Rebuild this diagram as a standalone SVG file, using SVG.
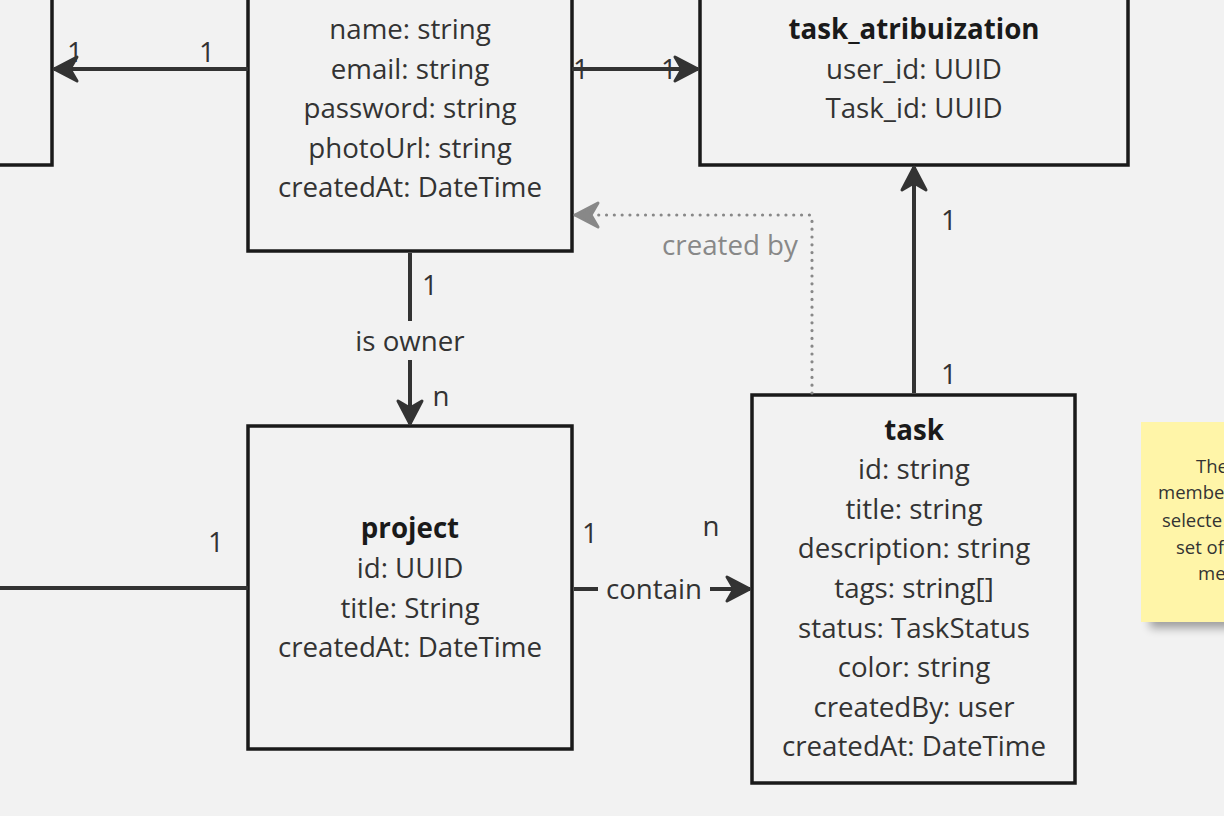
<svg xmlns="http://www.w3.org/2000/svg" width="1224" height="816" viewBox="0 0 1224 816">
<style>
.box{fill:#f2f2f2;stroke:#1a1a1a;stroke-width:3.5}
.t{font-family:"Open Sans","Noto Sans",sans-serif;font-size:27.7px;fill:#333;text-anchor:middle;dominant-baseline:central}
.b{font-weight:bold;fill:#1a1a1a}
.c{stroke:#333;stroke-width:4;fill:none}
.d{stroke:#888;stroke-width:3.2;fill:none;stroke-dasharray:0 7.8;stroke-linecap:round}
.lbl{font-family:"Open Sans","Noto Sans",sans-serif;font-size:27.7px;fill:#333;text-anchor:middle;dominant-baseline:central}
.g{fill:#888}
.n{font-family:"Open Sans","Noto Sans",sans-serif;font-size:18.5px;fill:#333}
</style>
<defs>
<marker id="ah" markerUnits="userSpaceOnUse" markerWidth="40" markerHeight="40" viewBox="-30 -20 40 40" refX="0" refY="0" orient="auto">
<path d="M0,0 L-23,-12 L-16,0 L-23,12 Z" fill="#333" stroke="#333" stroke-width="3" stroke-linejoin="round"/>
</marker>
<marker id="ahg" markerUnits="userSpaceOnUse" markerWidth="40" markerHeight="40" viewBox="-30 -20 40 40" refX="0" refY="0" orient="auto">
<path d="M0,0 L-23,-12 L-16,0 L-23,12 Z" fill="#888" stroke="#888" stroke-width="3" stroke-linejoin="round"/>
</marker>
<filter id="sh" x="-20%" y="-20%" width="140%" height="140%">
<feGaussianBlur stdDeviation="5"/>
</filter>
</defs>
<rect width="1224" height="816" fill="#f2f2f2"/>

<g id="left-entity">
<rect class="box" x="-10" y="-10" width="62" height="175"/>
</g>

<g id="user">
<rect class="box" x="248" y="-10" width="324" height="261"/>
<text class="t" x="410" y="28">name: string</text>
<text class="t" x="410" y="68">email: string</text>
<text class="t" x="410" y="107">password: string</text>
<text class="t" x="410" y="147">photoUrl: string</text>
<text class="t" x="410" y="186">createdAt: DateTime</text>
</g>

<g id="task_atribuization">
<rect class="box" x="700" y="-10" width="428" height="175"/>
<text class="t b" x="914" y="28">task_atribuization</text>
<text class="t" x="914" y="68">user_id: UUID</text>
<text class="t" x="914" y="107">Task_id: UUID</text>
</g>

<g id="project">
<rect class="box" x="248" y="426" width="324" height="323"/>
<text class="t b" x="410" y="527">project</text>
<text class="t" x="410" y="567">id: UUID</text>
<text class="t" x="410" y="607">title: String</text>
<text class="t" x="410" y="646">createdAt: DateTime</text>
</g>

<g id="task">
<rect class="box" x="752" y="395" width="323" height="388"/>
<text class="t b" x="914" y="429">task</text>
<text class="t" x="914" y="468">id: string</text>
<text class="t" x="914" y="508">title: string</text>
<text class="t" x="914" y="547">description: string</text>
<text class="t" x="914" y="587">tags: string[]</text>
<text class="t" x="914" y="627">status: TaskStatus</text>
<text class="t" x="914" y="666">color: string</text>
<text class="t" x="914" y="706">createdBy: user</text>
<text class="t" x="914" y="745">createdAt: DateTime</text>
</g>

<g id="note">
<rect x="1150" y="436" width="100" height="192" fill="#000" opacity="0.35" filter="url(#sh)"/>
<rect x="1141" y="422" width="100" height="200" fill="#fff5a8"/>
<text class="n" x="1196" y="473">The</text>
<text class="n" x="1158" y="499">membe</text>
<text class="n" x="1162" y="527">selecte</text>
<text class="n" x="1176" y="554">set of</text>
<text class="n" x="1198" y="580">me</text>
</g>

<g id="connectors">
<path class="c" d="M248,69 L54,69" marker-end="url(#ah)"/>
<text class="lbl" x="75" y="51">1</text>
<text class="lbl" x="207" y="51">1</text>

<path class="c" d="M572,69 L698,69" marker-end="url(#ah)"/>
<text class="lbl" x="581" y="68">1</text>
<text class="lbl" x="669" y="68">1</text>

<path class="c" d="M914,393 L914,167" marker-end="url(#ah)"/>
<text class="lbl" x="949" y="219">1</text>
<text class="lbl" x="949" y="373">1</text>

<path class="d" d="M812,393 L812,218 Q812,215 809,215 L575,215" marker-end="url(#ahg)"/>
<text class="lbl g" x="730" y="244">created by</text>

<path class="c" d="M410,253 L410,321"/>
<path class="c" d="M410,360 L410,424" marker-end="url(#ah)"/>
<text class="lbl" x="430" y="284">1</text>
<text class="lbl" x="410" y="340">is owner</text>
<text class="lbl" x="441" y="395">n</text>

<path class="c" d="M0,588 L248,588"/>
<text class="lbl" x="216" y="541">1</text>

<path class="c" d="M574,589 L598,589"/>
<path class="c" d="M710,589 L750,589" marker-end="url(#ah)"/>
<text class="lbl" x="654" y="588">contain</text>
<text class="lbl" x="590" y="532">1</text>
<text class="lbl" x="711" y="525">n</text>
</g>
</svg>
